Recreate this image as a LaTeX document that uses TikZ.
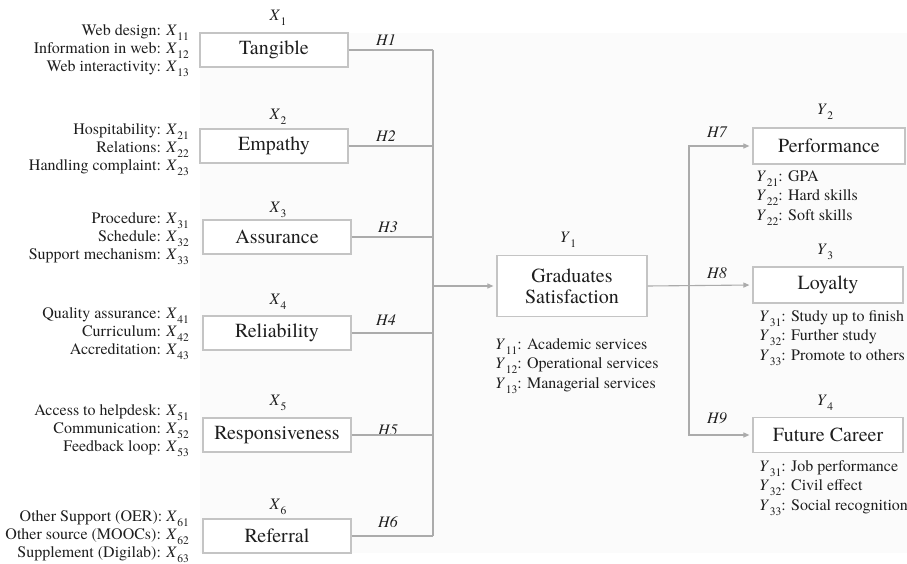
\documentclass[tikz,border=0pt]{standalone}
\usepackage{fontspec}
\setmainfont{TeX Gyre Termes}
\usetikzlibrary{arrows.meta}
\definecolor{boxline}{HTML}{C4C4C4}
\definecolor{conn}{HTML}{ABABAB}
\definecolor{txt}{HTML}{1E1E1E}
\newcommand{\vsub}[2]{\textit{#1}\kern0.5pt\raisebox{-0.32em}{\fontsize{11.5}{12}\selectfont #2}}
\tikzset{
  box/.style={draw=boxline, line width=1.2pt, fill=white, minimum height=34pt, minimum width=148pt, inner sep=2pt, font=\fontsize{20}{22}\selectfont, text=txt},
  lbl/.style={font=\fontsize{16}{18}\selectfont, text=txt, inner sep=0pt},
  hyp/.style={font=\fontsize{16}{18}\selectfont\itshape, text=txt, inner sep=0pt},
  lefttxt/.style={font=\fontsize{16}{18}\selectfont, text=txt, align=right, anchor=east, inner sep=0pt},
  righttxt/.style={font=\fontsize{16}{19.5}\selectfont, text=txt, align=left, anchor=west, inner sep=0pt},
  conline/.style={draw=conn, line width=1.1pt},
  arr/.style={conline, -{Triangle[length=6pt,width=5pt]}, shorten >=3pt}
}
\begin{document}
\begin{tikzpicture}[x=1pt,y=-1pt]
\useasboundingbox (0,0) rectangle (907,564);
\fill[black!1.5] (200,33) rectangle (907,553);
% left boxes
\node[box] (tang) at (274,50) {Tangible};
\node[box] (emp) at (274,146) {Empathy};
\node[box] (assu) at (277,237) {Assurance};
\node[box] (reli) at (277,333) {Reliability};
\node[box] (resp) at (277,435) {Responsiveness};
\node[box] (refe) at (277,536) {Referral};
% X labels
\node[lbl] (x1) at (278,18) {\vsub{X}{1}};
\node[lbl] (x2) at (278,117) {\vsub{X}{2}};
\node[lbl] (x3) at (278,210) {\vsub{X}{3}};
\node[lbl] (x4) at (278,302) {\vsub{X}{4}};
\node[lbl] (x5) at (278,403) {\vsub{X}{5}};
\node[lbl] (x6) at (278,507) {\vsub{X}{6}};
% left texts
\node[lefttxt] (t1) at (189,51) {Web design: \vsub{X}{11}\\Information in web: \vsub{X}{12}\\Web interactivity: \vsub{X}{13}};
\node[lefttxt] (t2) at (189,150) {Hospitability: \vsub{X}{21}\\Relations: \vsub{X}{22}\\Handling complaint: \vsub{X}{23}};
\node[lefttxt] (t3) at (189,239) {Procedure: \vsub{X}{31}\\Schedule: \vsub{X}{32}\\Support mechanism: \vsub{X}{33}};
\node[lefttxt] (t4) at (189,334) {Quality assurance: \vsub{X}{41}\\Curriculum: \vsub{X}{42}\\Accreditation: \vsub{X}{43}};
\node[lefttxt] (t5) at (189,431) {Access to helpdesk: \vsub{X}{51}\\Communication: \vsub{X}{52}\\Feedback loop: \vsub{X}{53}};
\node[lefttxt] (t6) at (189,537) {Other Support (OER): \vsub{X}{61}\\Other source (MOOCs): \vsub{X}{62}\\Supplement (Digilab): \vsub{X}{63}};
% hypotheses
\node[hyp] (h1) at (386,40) {H1};
\node[hyp] (h2) at (386,136) {H2};
\node[hyp] (h3) at (388,227) {H3};
\node[hyp] (h4) at (386,320) {H4};
\node[hyp] (h5) at (388,430) {H5};
\node[hyp] (h6) at (388,522) {H6};
\node[hyp] (h7) at (717,132) {H7};
\node[hyp] (h8) at (717,273) {H8};
\node[hyp] (h9) at (717,418) {H9};
% centre
\node[box, minimum width=150pt, minimum height=61pt, align=center, font=\fontsize{20}{21}\selectfont] (gs) at (572,286) {Graduates\\Satisfaction};
\node[lbl] (y1) at (568,240) {\vsub{Y}{1}};
\node[righttxt] (tg) at (495,366) {\vsub{Y}{11}: Academic services\\\vsub{Y}{12}: Operational services\\\vsub{Y}{13}: Managerial services};
% right boxes
\node[box, minimum width=152pt, minimum height=36pt] (perf) at (829,146) {Performance};
\node[box, minimum width=150pt, minimum height=36pt] (loya) at (828,285) {Loyalty};
\node[box, minimum width=150pt, minimum height=35pt] (care) at (828,435) {Future Career};
\node[lbl] (y2) at (825,112) {\vsub{Y}{2}};
\node[lbl] (y3) at (825,252) {\vsub{Y}{3}};
\node[lbl] (y4) at (825,403) {\vsub{Y}{4}};
\node[righttxt] (tp) at (756,198) {\vsub{Y}{21}: GPA\\\vsub{Y}{22}: Hard skills\\\vsub{Y}{22}: Soft skills};
\node[righttxt] (tl) at (759,338) {\vsub{Y}{31}: Study up to finish\\\vsub{Y}{32}: Further study\\\vsub{Y}{33}: Promote to others};
\node[righttxt] (tc) at (759,488) {\vsub{Y}{31}: Job performance\\\vsub{Y}{32}: Civil effect\\\vsub{Y}{33}: Social recognition};
% connectors left
\coordinate (trunk) at (433,0);
\foreach \b in {tang,emp,assu,reli,resp,refe}{
  \draw[conline] (\b.east) -- (\b.east -| trunk);
}
\draw[conline] (tang.east -| trunk) -- (refe.east -| trunk);
\draw[arr] (trunk |- gs.west) -- (gs.west);
% connectors right
\coordinate (rtrunk) at (689,0);
\draw[arr] (gs.east) -- (loya.west);
\draw[arr] (rtrunk |- loya.west) -- (rtrunk |- perf.west) -- (perf.west);
\draw[arr] (rtrunk |- loya.west) -- (rtrunk |- care.west) -- (care.west);
\end{tikzpicture}
\end{document}
